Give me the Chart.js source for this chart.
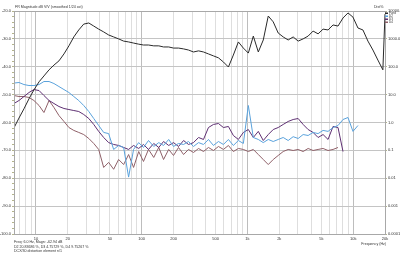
<!DOCTYPE html>
<html>
<head>
<meta charset="utf-8">
<script src="https://cdn.jsdelivr.net/npm/chart.js@4.4.0/dist/chart.umd.min.js"></script>
<style>
  html, body { margin: 0; padding: 0; background: #fff; }
</style>
</head>
<body>
<canvas id="chart" width="400" height="254"></canvas>
<script>
// Frequencies (Hz) shared by all curves
const freqs = [6.2, 6.91, 7.7, 8.59, 9.57, 10.7, 11.9, 13.3, 14.8, 16.5,
  18.4, 20.5, 22.8, 25.4, 28.3, 31.6, 35.2, 39.2, 43.7, 48.7,
  54.3, 60.5, 67.5, 75.2, 83.8, 93.7, 104, 116, 130, 145,
  161, 180, 200, 223, 249, 277, 309, 345, 384, 428,
  477, 532, 593, 661, 736, 821, 915, 1020, 1137, 1267,
  1412, 1574, 1754, 1955, 2179, 2429, 2707, 3018, 3364, 3749,
  4179, 4658, 5192, 5787, 6450, 7190, 8014, 8933, 9957, 11100,
  12370, 13790, 15370, 17130, 19090, 20000];

// Fundamental magnitude, dB (left axis)
const magDb = [-61.9, -58.4, -55.1, -51.5, -48.3, -45.4, -43.3, -41.1, -39.4, -37.9,
  -35.4, -32.5, -29.3, -26.8, -24.7, -24.3, -25.4, -26.5, -27.5, -28.6,
  -29.3, -30.0, -30.8, -31.1, -31.5, -31.9, -32.2, -32.2, -32.5, -32.5,
  -32.9, -32.9, -33.3, -33.3, -33.6, -34.0, -34.7, -34.3, -34.7, -35.4,
  -36.1, -36.8, -38.3, -40.1, -35.8, -31.1, -33.3, -35.1, -29.0, -34.7,
  -30.4, -21.8, -23.9, -27.9, -29.3, -30.4, -29.3, -30.8, -30.0, -29.0,
  -27.2, -28.2, -26.5, -26.8, -25.0, -25.4, -22.5, -20.7, -22.2, -26.1,
  -26.8, -30.8, -34.0, -37.6, -41.1, -21.1];

// Harmonic distortion, % (right axis)
const d2 = [26, 27.2, 23, 21.2, 21.2, 23, 29.5, 29.5, 25, 19.5,
  15.2, 11.9, 8.55, 6.15, 4.07, 2.48, 1.39, 0.78, 0.44, 0.40,
  0.108, 0.15, 0.127, 0.011, 0.108, 0.19, 0.127, 0.226, 0.138, 0.19,
  0.15, 0.246, 0.138, 0.177, 0.163, 0.208, 0.138, 0.19, 0.163, 0.246,
  0.15, 0.208, 0.163, 0.246, 0.15, 0.226, 0.177, 4.07, 0.29, 0.246,
  0.19, 0.246, 0.208, 0.246, 0.29, 0.226, 0.31, 0.267, 0.37, 0.342,
  0.44, 0.40, 0.52, 0.48, 0.66, 0.78, 1.28, 1.51, 0.48, 0.78,
  null, null, null, null, null, null];

const d3 = [4.8, 6.15, 8.55, 11.9, 15.2, 14.0, 9.3, 6.15, 4.8, 3.74,
  3.18, 2.92, 2.69, 2.48, 1.94, 1.39, 0.85, 0.48, 0.29, 0.19,
  0.163, 0.15, 0.127, 0.108, 0.15, 0.117, 0.163, 0.108, 0.177, 0.127,
  0.208, 0.15, 0.19, 0.138, 0.226, 0.163, 0.19, 0.29, 0.246, 0.66,
  0.85, 0.92, 0.66, 0.72, 0.342, 0.246, 0.44, 0.56, 0.29, 0.48,
  0.226, 0.37, 0.56, 0.66, 0.85, 1.09, 1.28, 1.39, 0.85, 0.56,
  0.44, 0.29, 0.37, 0.246, 0.72, 0.66, 0.091, null, null, null,
  null, null, null, null, null, null];

const d4 = [9.3, 8.55, 8.55, 7.9, 6.15, 4.07, 2.28, 6.15, 3.45, 1.78,
  1.09, 0.66, 0.52, 0.44, 0.37, 0.267, 0.177, 0.108, 0.0244, 0.037,
  0.021, 0.047, 0.031, 0.071, 0.0244, 0.091, 0.04, 0.108, 0.0557, 0.127,
  0.047, 0.108, 0.0656, 0.127, 0.071, 0.108, 0.084, 0.117, 0.091, 0.127,
  0.099, 0.138, 0.108, 0.15, 0.091, 0.117, 0.108, 0.091, 0.108, 0.071,
  0.047, 0.031, 0.047, 0.0656, 0.091, 0.108, 0.099, 0.108, 0.091, 0.117,
  0.099, 0.108, 0.117, 0.099, 0.108, 0.127, null, null, null, null,
  null, null, null, null, null, null];

// Tick labels
const xTickValues = [10, 20, 50, 100, 200, 500, 1000, 2000, 5000, 10000, 20000];
const xTickLabels = ['10', '20', '50', '100', '200', '500', '1k', '2k', '5k', '10k', '20k'];
const pctTickValues = [0.0001, 0.001, 0.01, 0.1, 1, 10, 100, 1000, 10000];
const pctTickLabels = ['0.0001', '0.001', '0.01', '0.1', '1.0', '10.0', '100.0', '1000.0', '10000.0'];

const seriesNames = ['Fund', 'D2', 'D3', 'D4'];
const seriesColors = ['#2a2a2a', '#5aa2dc', '#5e2f72', '#8f6068'];

const FONT = 'Liberation Sans';

function points(vals) {
  return freqs.map((f, i) => ({ x: f, y: vals[i] }));
}

// minor grid lines 1..9 per decade
const gridFreqs = [];
for (let dec = 1; dec <= 10000; dec *= 10) {
  for (let m = 1; m <= 9; m++) {
    const v = m * dec;
    if (v >= 6.2 && v <= 20000) gridFreqs.push(v);
  }
}

const textPlugin = {
  id: 'texts',
  afterDraw(chart) {
    const { ctx, chartArea: a } = chart;
    ctx.save();
    ctx.strokeStyle = '#a8a8a8';
    ctx.lineWidth = 1;
    ctx.strokeRect(a.left + 0.5, a.top + 0.5, a.right - a.left, a.bottom - a.top);

    ctx.fillStyle = '#333';
    ctx.textBaseline = 'alphabetic';
    ctx.font = '3.6px ' + FONT;
    ctx.textAlign = 'left';
    ctx.fillText('FR Magnitude dB V/V (smoothed 1/24 oct)', 15, 8);
    ctx.fillText('Freq: 6.0 Hz, Magn: -62.94 dB', 14, 243);
    ctx.fillText('D2 20.83686 %, D3 4.75729 %, D4 9.75267 %', 14, 247.5);
    ctx.fillText('DCX/30 distortion element n/1', 14, 252);
    ctx.fillText('Dist%', 374, 8);
    ctx.textAlign = 'right';
    ctx.fillText('Frequency (Hz)', 386, 245);

    // legend
    ctx.textAlign = 'left';
    ctx.font = '3px ' + FONT;
    seriesNames.forEach((name, i) => {
      const y = 14 + i * 3;
      ctx.fillStyle = seriesColors[i];
      ctx.fillRect(385, y - 1.5, 3, 1.5);
      ctx.fillStyle = '#333';
      ctx.fillText(name, 389, y);
    });
    ctx.restore();
  }
};

new Chart(document.getElementById('chart'), {
  type: 'line',
  data: {
    datasets: [
      { label: seriesNames[0], data: points(magDb), borderColor: seriesColors[0], yAxisID: 'y' },
      { label: seriesNames[1], data: points(d2), borderColor: seriesColors[1], yAxisID: 'y1' },
      { label: seriesNames[2], data: points(d3), borderColor: seriesColors[2], yAxisID: 'y1' },
      { label: seriesNames[3], data: points(d4), borderColor: seriesColors[3], yAxisID: 'y1' }
    ]
  },
  options: {
    responsive: false,
    animation: false,
    devicePixelRatio: 1,
    layout: { padding: { top: 11, left: 0, right: 0, bottom: 0 } },
    plugins: { legend: { display: false }, tooltip: { enabled: false } },
    elements: {
      point: { radius: 0 },
      line: { borderWidth: 1, tension: 0, fill: false }
    },
    scales: {
      x: {
        type: 'logarithmic',
        min: 6.2,
        max: 20000,
        afterFit: s => { s.height = 20; },
        afterBuildTicks: s => { s.ticks = gridFreqs.map(v => ({ value: v })); },
        grid: {
          color: c => [10, 100, 1000, 10000].includes(c.tick && c.tick.value) ? '#bdbdbd' : '#dedede',
          drawTicks: false
        },
        border: { color: '#a8a8a8' },
        ticks: {
          autoSkip: false, maxRotation: 0, padding: 2,
          font: { size: 4, family: FONT }, color: '#333',
          callback: v => {
            const i = xTickValues.indexOf(Math.round(v));
            return i >= 0 ? xTickLabels[i] : '';
          }
        }
      },
      y: {
        position: 'left',
        min: -100,
        max: -20,
        afterFit: s => { s.width = 14; },
        grid: {
          color: c => (c.tick && c.tick.value % 10 === 0) ? '#c4c4c4' : 'rgba(0,0,0,0)',
          tickLength: 2,
          tickColor: '#b4b48c'
        },
        border: { color: '#a8a8a8' },
        ticks: {
          stepSize: 2, autoSkip: false, padding: 1,
          font: { size: 4, family: FONT }, color: '#333',
          callback: v => v % 10 === 0 ? v.toFixed(1) : ''
        }
      },
      y1: {
        type: 'logarithmic',
        position: 'right',
        min: 0.0001,
        max: 10000,
        afterFit: s => { s.width = 15; },
        afterBuildTicks: s => { s.ticks = pctTickValues.map(v => ({ value: v })); },
        grid: { drawOnChartArea: false, tickLength: 2, tickColor: '#b4b48c' },
        border: { color: '#a8a8a8' },
        ticks: {
          autoSkip: false, padding: 1,
          font: { size: 4, family: FONT }, color: '#333',
          callback: (v, i) => pctTickLabels[i]
        }
      }
    }
  },
  plugins: [textPlugin]
});
</script>
</body>
</html>
